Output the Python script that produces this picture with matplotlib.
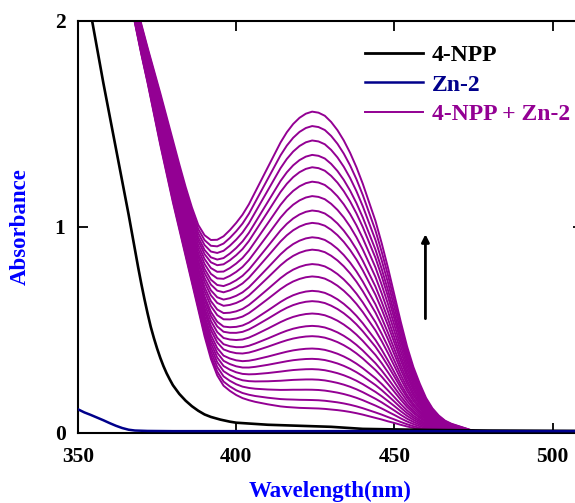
import numpy as np
import matplotlib
matplotlib.use("Agg")
import matplotlib.pyplot as plt
from matplotlib.lines import Line2D

plt.rcParams["font.family"] = ["Liberation Serif", "DejaVu Serif"]
plt.rcParams["font.weight"] = "bold"

# ---- 4-NPP alone ----
npp_wl = [350, 352, 354, 356, 358, 360, 362, 364, 366, 367, 368, 369, 370, 371,
          372, 373, 374, 375, 376, 377, 378, 379, 380, 382, 384, 386, 388, 390,
          392, 395, 398, 400, 410, 420, 430, 440, 460, 480, 510]
npp_abs = [2.40, 2.21, 2.04, 1.87, 1.70, 1.54, 1.38, 1.22, 1.06, 0.975, 0.89,
           0.805, 0.725, 0.65, 0.58, 0.515, 0.46, 0.41, 0.365, 0.325, 0.29,
           0.26, 0.232, 0.19, 0.157, 0.13, 0.108, 0.09, 0.078, 0.065, 0.055,
           0.05, 0.04, 0.035, 0.03, 0.02, 0.015, 0.012, 0.010]

# ---- Zn-2 alone ----
zn_wl = [350, 352, 354, 356, 358, 360, 362, 364, 366, 368, 372, 380, 400, 450, 510]
zn_abs = [0.115, 0.100, 0.088, 0.075, 0.062, 0.048, 0.035, 0.024, 0.016, 0.012,
          0.010, 0.009, 0.009, 0.009, 0.009]

# ---- 4-NPP + Zn-2, time-resolved scans ----
mix_wl = [366, 368, 370, 372, 374, 376, 378, 380, 382, 384, 386, 388, 390, 392,
          394, 396, 398, 400, 402, 404, 406, 408, 410, 412, 414, 416, 418, 420,
          422, 424, 426, 428, 430, 432, 434, 436, 438, 440, 442, 444, 446, 448,
          450, 452, 454, 456, 458, 460, 462, 464, 466, 468, 470, 472, 474, 476,
          478, 480, 490, 500, 510]
first_scan = [2.15, 1.99, 1.84, 1.70, 1.55, 1.40, 1.26, 1.12, 0.99, 0.86, 0.73,
              0.60, 0.47, 0.36, 0.28, 0.23, 0.205, 0.185, 0.17, 0.16, 0.152,
              0.146, 0.140, 0.135, 0.130, 0.127, 0.125, 0.123, 0.122, 0.121,
              0.120, 0.118, 0.115, 0.112, 0.108, 0.103, 0.097, 0.090, 0.082,
              0.074, 0.066, 0.057, 0.049, 0.040, 0.032, 0.025, 0.019, 0.014,
              0.010, 0.007, 0.005, 0.003, 0.002, 0.001, 0.001, 0.0, 0.0, 0.0,
              0.0, 0.0, 0.0]
final_scan = [2.24, 2.11, 1.985, 1.87, 1.76, 1.65, 1.535, 1.42, 1.305, 1.195,
              1.095, 1.01, 0.96, 0.937, 0.938, 0.955, 0.985, 1.02, 1.06, 1.11,
              1.17, 1.23, 1.29, 1.35, 1.41, 1.46, 1.50, 1.53, 1.55, 1.56, 1.555,
              1.54, 1.51, 1.47, 1.42, 1.36, 1.29, 1.21, 1.12, 1.03, 0.92, 0.80,
              0.67, 0.54, 0.42, 0.32, 0.24, 0.17, 0.12, 0.085, 0.06, 0.045,
              0.035, 0.025, 0.015, 0.008, 0.004, 0.002, 0.0, 0.0, 0.0]
# absorbance at the 424 nm band maximum for each scan
peak_abs = [1.56, 1.49, 1.42, 1.35, 1.29, 1.22, 1.15, 1.08, 1.02, 0.95, 0.89,
            0.82, 0.76, 0.69, 0.64, 0.58, 0.52, 0.47, 0.41, 0.36, 0.31, 0.26,
            0.21, 0.16, 0.12]
peak_wl = 424

c_npp = "#000000"
c_zn = "#00008B"
c_mix = "#930093"

fig = plt.figure(figsize=(5.75, 5.03), dpi=100)
ax = fig.add_axes([78 / 575, 70 / 503, 505 / 575, 412 / 503])

wl = np.array(mix_wl, dtype=float)
f0 = np.array(first_scan)
f1 = np.array(final_scan)
ip = mix_wl.index(peak_wl)
for p in peak_abs:
    frac = (p - f0[ip]) / (f1[ip] - f0[ip])
    ax.plot(wl, f0 + frac * (f1 - f0), color=c_mix, lw=1.4, zorder=2,
            solid_joinstyle="round")

ax.plot(npp_wl, npp_abs, color=c_npp, lw=1.9, zorder=3, solid_joinstyle="round")
ax.plot(zn_wl, zn_abs, color=c_zn, lw=1.8, zorder=4)

ax.annotate("", xy=(459.8, 0.965), xytext=(459.8, 0.555),
            arrowprops=dict(arrowstyle="-|>", color="black", lw=2.0,
                            mutation_scale=11, shrinkA=0, shrinkB=0))

ax.set_xlim(350, 509.6)
ax.set_ylim(0, 2)
ax.set_xticks([350, 400, 450, 500])
ax.set_yticks([0, 1, 2])
ax.tick_params(direction="in", length=7, width=1.3, top=True, right=True,
               labelsize=15.5)
ax.tick_params(axis="x", pad=10)
ax.tick_params(axis="y", pad=9)
for s in ax.spines.values():
    s.set_linewidth(1.5)

ax.set_xlabel("Wavelength(nm)", color="#0000FF", fontsize=16.5,
              fontweight="bold", labelpad=10)
ax.set_ylabel("Absorbance", color="#0000FF", fontsize=16.5,
              fontweight="bold", labelpad=17)

handles = [Line2D([], [], color=c_npp, lw=2.0),
           Line2D([], [], color=c_zn, lw=1.8),
           Line2D([], [], color=c_mix, lw=1.4)]
labels = ["4-NPP", "Zn-2", "4-NPP + Zn-2"]
leg = ax.legend(handles, labels, loc="upper left", bbox_to_anchor=(0.568, 0.942),
                frameon=False, fontsize=17, handlelength=2.46,
                handletextpad=0.38, labelspacing=0.33, borderpad=0,
                borderaxespad=0)
for t, c in zip(leg.get_texts(), [c_npp, c_zn, c_mix]):
    t.set_color(c)

fig.savefig("out.png", dpi=100)
